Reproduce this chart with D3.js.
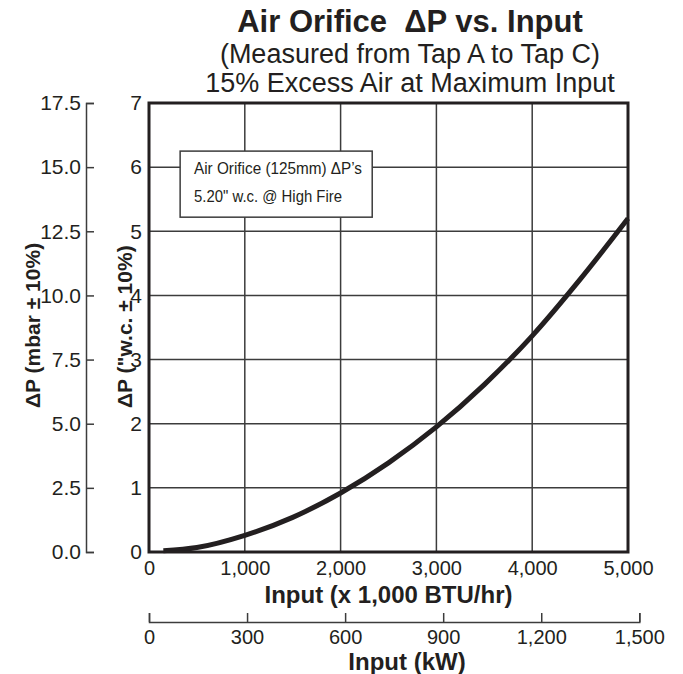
<!DOCTYPE html>
<html>
<head>
<meta charset="utf-8">
<script src="https://cdn.jsdelivr.net/npm/d3@7"></script>
<style>
  body { margin: 0; background: #fff; }
  svg { font-family: "Liberation Sans", Arial, Helvetica, sans-serif; }
  .axis text { fill: #231f20; }
</style>
</head>
<body>
<div id="chart"></div>
<script>
// readings (x 1,000 BTU/hr vs "w.c.)
const inputBtu = [150, 500, 1000, 1500, 2000, 2500, 3000, 3500, 4000, 4500, 5000];
const dpWc = [0.02, 0.07, 0.26, 0.54, 0.92, 1.39, 1.95, 2.61, 3.37, 4.25, 5.2];

const btuTicks = [0, 1000, 2000, 3000, 4000, 5000];
const kwTicks = [0, 300, 600, 900, 1200, 1500];
const wcTicks = [0, 1, 2, 3, 4, 5, 6, 7];
const mbarTicks = [0, 2.5, 5, 7.5, 10, 12.5, 15, 17.5];

const noteLines = ["Air Orifice (125mm) \u0394P\u2019s", "5.20\" w.c. @ High Fire"];

const width = 683, height = 674;
const margin = {top: 103, right: 55, bottom: 122, left: 149};
const ink = "#231f20";

const svg = d3.select("#chart").append("svg")
  .attr("width", width)
  .attr("height", height);

const x = d3.scaleLinear().domain([0, 5000]).range([margin.left, width - margin.right]);
const y = d3.scaleLinear().domain([0, 7]).range([height - margin.bottom, margin.top]);
const yMbar = d3.scaleLinear().domain([0, 17.5]).range(y.range());
// 1 kW = 3.412 x 1,000 BTU/hr
const xKw = d3.scaleLinear().domain([0, 1500]).range([x(0), x(1500 * 3.412)]);

// titles
const cx = 410;
svg.append("text").attr("x", cx).attr("y", 32).attr("text-anchor", "middle")
  .attr("font-size", 31).attr("font-weight", "bold").attr("fill", ink)
  .style("white-space", "pre")
  .text("Air Orifice  \u0394P vs. Input");
svg.append("text").attr("x", cx).attr("y", 63).attr("text-anchor", "middle")
  .attr("font-size", 27).attr("fill", ink)
  .text("(Measured from Tap A to Tap C)");
svg.append("text").attr("x", cx).attr("y", 92).attr("text-anchor", "middle")
  .attr("font-size", 27).attr("fill", ink)
  .text("15% Excess Air at Maximum Input");

// grid
const grid = svg.append("g").attr("stroke", "#3c3c3c").attr("stroke-width", 1.5);
grid.selectAll(".gx").data(btuTicks.slice(1, -1)).enter().append("line")
  .attr("x1", d => x(d)).attr("x2", d => x(d))
  .attr("y1", y(0)).attr("y2", y(7));
grid.selectAll(".gy").data(wcTicks.slice(1, -1)).enter().append("line")
  .attr("x1", x(0)).attr("x2", x(5000))
  .attr("y1", d => y(d)).attr("y2", d => y(d));

// note box
const box = svg.append("g");
box.append("rect")
  .attr("x", x(325)).attr("y", y(6.25))
  .attr("width", x(2330) - x(325)).attr("height", y(5.22) - y(6.25))
  .attr("fill", "#fff").attr("stroke", "#3c3c3c").attr("stroke-width", 1.5);
box.selectAll("text").data(noteLines).enter().append("text")
  .attr("x", x(470))
  .attr("y", (d, i) => y(5.9) + i * 28)
  .attr("font-size", 17).attr("fill", ink)
  .attr("textLength", (d, i) => i === 0 ? 168 : 148)
  .attr("lengthAdjust", "spacingAndGlyphs")
  .text(d => d);

// curve
const line = d3.line()
  .x((d, i) => x(inputBtu[i]))
  .y(d => y(d))
  .curve(d3.curveMonotoneX);
svg.append("path")
  .datum(dpWc)
  .attr("d", line)
  .attr("fill", "none")
  .attr("stroke", ink)
  .attr("stroke-width", 5)
  .attr("stroke-linecap", "butt");

// plot border
svg.append("rect")
  .attr("x", x(0)).attr("y", y(7))
  .attr("width", x(5000) - x(0)).attr("height", y(0) - y(7))
  .attr("fill", "none").attr("stroke", ink).attr("stroke-width", 3);

// bottom BTU axis
const gx = svg.append("g").attr("class", "axis")
  .attr("transform", `translate(0,${y(0)})`)
  .call(d3.axisBottom(x).tickValues(btuTicks).tickSize(0).tickPadding(9).tickFormat(d3.format(",")));
gx.select(".domain").remove();
gx.selectAll("text").attr("font-size", 20).attr("font-family", null);

svg.append("text").attr("x", (x(0) + x(5000)) / 2).attr("y", 603)
  .attr("text-anchor", "middle").attr("font-size", 24).attr("font-weight", "bold").attr("fill", ink)
  .text("Input (x 1,000 BTU/hr)");

// kW axis
const gk = svg.append("g").attr("class", "axis")
  .attr("transform", "translate(0,622)")
  .call(d3.axisBottom(xKw).tickValues(kwTicks).tickSizeInner(-9).tickSizeOuter(-9).tickPadding(8).tickFormat(d3.format(",")));
gk.selectAll("path, line").attr("stroke", "#3c3c3c").attr("stroke-width", 1.5);
gk.selectAll("text").attr("font-size", 20).attr("font-family", null);

svg.append("text").attr("x", 407).attr("y", 670)
  .attr("text-anchor", "middle").attr("font-size", 24).attr("font-weight", "bold").attr("fill", ink)
  .text("Input (kW)");

// inner "w.c. axis (labels only)
const gy = svg.append("g").attr("class", "axis")
  .attr("transform", `translate(${x(0)},0)`)
  .call(d3.axisLeft(y).tickValues(wcTicks).tickSize(0).tickPadding(7).tickFormat(d3.format("d")));
gy.select(".domain").remove();
gy.selectAll("text").attr("font-size", 21).attr("font-family", null);

// outer mbar axis
const gm = svg.append("g").attr("class", "axis")
  .attr("transform", "translate(86,0)")
  .call(d3.axisLeft(yMbar).tickValues(mbarTicks).tickSizeInner(-8).tickSizeOuter(-8).tickPadding(5).tickFormat(d3.format(".1f")));
gm.selectAll("path, line").attr("stroke", "#3c3c3c").attr("stroke-width", 1.5);
gm.selectAll("text").attr("font-size", 21).attr("font-family", null);

// y titles
svg.append("text").attr("transform", "translate(40,408) rotate(-90)")
  .attr("font-size", 21).attr("font-weight", "bold").attr("fill", ink)
  .text("\u0394P (mbar \u00b1 10%)");
svg.append("text").attr("transform", "translate(132,408) rotate(-90)")
  .attr("font-size", 21).attr("font-weight", "bold").attr("fill", ink)
  .text("\u0394P (\"w.c. \u00b1 10%)");
</script>
</body>
</html>
